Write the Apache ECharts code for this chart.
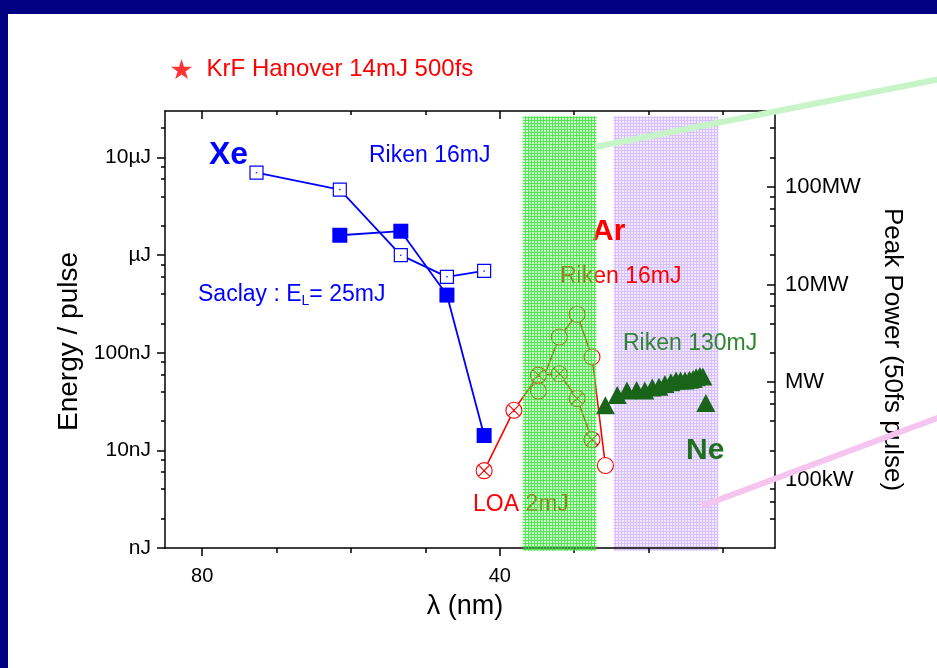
<!DOCTYPE html>
<html><head><meta charset="utf-8">
<script src="https://cdn.jsdelivr.net/npm/echarts@6/dist/echarts.min.js"></script>
<style>html,body{margin:0;padding:0;background:#fff;overflow:hidden}#c{width:937px;height:668px}</style>
</head><body><div id="c"></div><script>
// ---------- data ----------
const xeRikenWl = [72.7, 61.5, 53.3, 47.1, 42.1];
const xeRikenE  = [7000, 4700, 1000, 600, 690];          // nJ
const xeSaclayWl = [61.5, 53.3, 47.1, 42.1];
const xeSaclayE  = [1600, 1760, 390, 14.2];
const arLoaWl = [42.1, 38.1, 34.8, 32.0, 29.6, 27.6];
const arLoaE  = [6.2, 25.8, 59, 61, 34, 12.9];
const arRikenWl = [34.8, 32.0, 29.6, 27.6, 25.8];
const arRikenE  = [40.6, 145, 248, 90.6, 7.0];
const neRikenWl = [25.8, 24.2, 22.9, 21.6, 20.5, 19.5, 18.6, 17.8, 17.0, 16.3, 15.7, 15.1, 14.5, 14.0, 13.6, 13.1, 12.7, 12.3];
const neRikenE  = [29, 37, 41, 41.6, 41, 44, 45, 48, 50, 52, 52, 52, 53, 54, 56, 58, 57, 30.6];
const greenBand = [36.9, 27.0];
const purpleBand = [24.7, 10.6];
const bandTop  = 26500;

const xMajor = [80, 40];
const xMinor = [70, 60, 50, 30, 20, 10];
const eMajor = [1, 10, 100, 1000, 10000];
const eLabels = ['nJ', '10nJ', '100nJ', 'µJ', '10µJ'];
const eMinor = [2,4,6,8,20,40,60,80,200,400,600,800,2000,4000,6000,8000,20000];
const pMajor = [1e5, 1e6, 1e7, 1e8];
const pLabels = ['100kW', 'MW', '10MW', '100MW'];
const pMinor = [4e4,6e4,8e4,2e5,4e5,6e5,8e5,2e6,4e6,6e6,8e6,2e7,4e7,6e7,8e7,2e8,4e8];

const xMin = 3, xMax = 85;
const eMin = 1, eMax = 30000;
const pulseFs = 50;
const pMin = eMin * 1e-9 / (pulseFs * 1e-15), pMax = eMax * 1e-9 / (pulseFs * 1e-15);

// ---------- helpers ----------
const FONT = '"Liberation Sans", Arial, Helvetica, sans-serif';
const zip = (a, b) => a.map((v, i) => [v, b[i]]);
function lookup(vals, labels) {
  return v => { const k = Math.round(Math.log10(v)); for (let i = 0; i < vals.length; i++) if (Math.round(Math.log10(vals[i])) === k) return labels[i]; return ''; };
}
function hatch(bg, ln) {
  const c = document.createElement('canvas'); c.width = 3; c.height = 3;
  const g = c.getContext('2d');
  g.fillStyle = bg; g.fillRect(0, 0, 3, 3);
  g.fillStyle = ln; g.fillRect(0, 0, 3, 1); g.fillRect(0, 1, 1, 2);
  return { image: c, repeat: 'repeat' };
}
const line = { lineStyle: { color: '#000', width: 1.5 } };
const tickStyle = { color: '#000', width: 1.5 };

const xAxes = [
  { type: 'value', position: 'bottom', inverse: true, min: xMin, max: xMax,
    axisLine: { show: true, onZero: false, ...line },
    axisTick: { show: true, length: 8, customValues: xMajor, lineStyle: tickStyle },
    axisLabel: { customValues: xMajor, fontSize: 20, color: '#000', fontFamily: FONT, margin: 18 },
    splitLine: { show: false },
    name: 'λ (nm)', nameLocation: 'middle', nameGap: 45,
    nameTextStyle: { fontSize: 27, color: '#000', fontFamily: FONT, padding: [0, 10, 0, 0] } },
  { type: 'value', position: 'bottom', inverse: true, min: xMin, max: xMax,
    axisLine: { show: false, onZero: false },
    axisTick: { show: true, length: 5, customValues: xMinor, lineStyle: tickStyle },
    axisLabel: { show: false }, splitLine: { show: false } },
  { type: 'value', position: 'top', inverse: true, min: xMin, max: xMax,
    axisLine: { show: true, onZero: false, ...line },
    axisTick: { show: true, inside: true, length: 8, customValues: xMajor, lineStyle: tickStyle },
    axisLabel: { show: false }, splitLine: { show: false } },
  { type: 'value', position: 'top', inverse: true, min: xMin, max: xMax,
    axisLine: { show: false, onZero: false },
    axisTick: { show: true, inside: true, length: 4, customValues: xMinor, lineStyle: tickStyle },
    axisLabel: { show: false }, splitLine: { show: false } }
];

const yAxes = [
  { type: 'log', position: 'left', min: eMin, max: eMax,
    axisLine: { show: true, onZero: false, ...line },
    axisTick: { show: true, length: 8, customValues: eMajor, lineStyle: tickStyle },
    axisLabel: { customValues: eMajor, formatter: lookup(eMajor, eLabels), fontSize: 21, color: '#000', fontFamily: FONT, margin: 14 },
    splitLine: { show: false },
    name: 'Energy / pulse', nameLocation: 'middle', nameGap: 82,
    nameTextStyle: { fontSize: 28, color: '#000', fontFamily: FONT, padding: [0, 24, 0, 0] } },
  { type: 'log', position: 'left', min: eMin, max: eMax,
    axisLine: { show: false },
    axisTick: { show: true, length: 4, customValues: eMinor, lineStyle: tickStyle },
    axisLabel: { show: false }, splitLine: { show: false } },
  { type: 'log', position: 'right', min: pMin, max: pMax,
    axisLine: { show: true, onZero: false, ...line },
    axisTick: { show: true, inside: true, length: 8, customValues: pMajor, lineStyle: tickStyle },
    axisLabel: { customValues: pMajor, formatter: lookup(pMajor, pLabels), fontSize: 22, color: '#000', fontFamily: FONT, margin: 10 },
    splitLine: { show: false },
    name: 'Peak Power (50fs pulse)', nameLocation: 'middle', nameGap: 104, nameRotate: -90,
    nameTextStyle: { fontSize: 26, color: '#000', fontFamily: FONT, padding: [0, 0, 0, 40] } },
  { type: 'log', position: 'right', min: pMin, max: pMax,
    axisLine: { show: false },
    axisTick: { show: true, inside: true, length: 5, customValues: pMinor, lineStyle: tickStyle },
    axisLabel: { show: false }, splitLine: { show: false } }
];

const starPath = 'path://M50,0 L61,35 L98,35 L68,57 L79,91 L50,70 L21,91 L32,57 L2,35 L39,35 Z';
const crossCircle = 'path://M10,0 A10,10 0 1,1 -10,0 A10,10 0 1,1 10,0 Z M-7.07,-7.07 L7.07,7.07 M7.07,-7.07 L-7.07,7.07';

function bandSeries(name, range, fill, z) {
  return { name: name, type: 'custom', z: z, silent: true, data: [range],
    renderItem: function (params, api) {
      const a = api.coord([api.value(0), bandTop]);
      const b = api.coord([api.value(1), eMin]);
      return { type: 'rect', shape: { x: Math.min(a[0], b[0]), y: a[1], width: Math.abs(b[0] - a[0]), height: b[1] - a[1] + 3 },
        style: { fill: fill } };
    } };
}

function txt(text, x, y, size, color, bold, z) {
  return { type: 'text', x: x, y: y, z: z === undefined ? 1 : z,
    style: { text: text, fill: color, font: (bold ? 'bold ' : '') + size + 'px ' + FONT, textVerticalAlign: 'middle' } };
}

const option = {
  backgroundColor: '#fff',
  animation: false,
  grid: { left: 165, right: 162, top: 111, bottom: 120, containLabel: false },
  xAxis: xAxes,
  yAxis: yAxes,
  legend: {
    show: true, left: 166, top: 52, itemWidth: 40, itemHeight: 20, symbolKeepAspect: true,
    data: [{ name: 'KrF Hanover 14mJ 500fs', icon: starPath }],
    textStyle: { color: '#ff0000', fontSize: 24, fontFamily: FONT }
  },
  series: [
    bandSeries('Ne region', purpleBand, hatch('rgba(225,205,252,0.45)', 'rgba(200,165,248,0.6)'), 0),
    { name: 'Xe Riken 16mJ', type: 'line', data: zip(xeRikenWl, xeRikenE), symbol: 'rect', symbolSize: 13,
      itemStyle: { color: '#fff', borderColor: '#0000ff', borderWidth: 1.2 }, lineStyle: { color: '#0000ff', width: 1.8 }, z: 3 },
    { name: 'Xe Riken dot', type: 'scatter', data: zip(xeRikenWl, xeRikenE), symbol: 'rect', symbolSize: 1.5,
      itemStyle: { color: '#0000ff' }, z: 4 },
    { name: 'Xe Saclay 25mJ', type: 'line', data: zip(xeSaclayWl, xeSaclayE), symbol: 'rect', symbolSize: 15,
      itemStyle: { color: '#0000ff' }, lineStyle: { color: '#0000ff', width: 1.8 }, z: 3 },
    { name: 'Ar LOA 2mJ', type: 'line', data: zip(arLoaWl, arLoaE), symbol: crossCircle, symbolSize: 16,
      itemStyle: { color: '#fff', borderColor: '#ff0000', borderWidth: 1.1 }, lineStyle: { color: '#ff0000', width: 1.6 }, z: 3 },
    { name: 'Ar Riken 16mJ', type: 'line', data: zip(arRikenWl, arRikenE), symbol: 'circle', symbolSize: 16,
      itemStyle: { color: '#fff', borderColor: '#ff0000', borderWidth: 1.1 }, lineStyle: { color: '#ff0000', width: 1.6 }, z: 3 },
    { name: 'Ne Riken 130mJ', type: 'scatter', data: zip(neRikenWl, neRikenE), symbol: 'triangle', symbolSize: [19, 18],
      itemStyle: { color: '#186418', opacity: 1 }, z: 3 },
    { name: 'KrF Hanover 14mJ 500fs', type: 'scatter', data: [], symbol: starPath, itemStyle: { color: '#ff0000' } },
    bandSeries('Ar region', greenBand, hatch('rgba(120,240,120,0.35)', 'rgba(40,225,40,0.75)'), 6)
  ],
  graphic: [
    { type: 'rect', shape: { x: 0, y: 0, width: 937, height: 14 }, style: { fill: '#000080' }, z: 20 },
    { type: 'rect', shape: { x: 0, y: 0, width: 8, height: 668 }, style: { fill: '#000080' }, z: 20 },
    txt('Xe', 209, 155, 32, '#0000ff', true),
    txt('Riken 16mJ', 369, 156, 23, '#0000ff', false),
    { type: 'text', x: 198, y: 295, z: 1,
      style: { rich: { a: { fill: '#0000ff', font: '23px ' + FONT }, s: { fill: '#0000ff', font: '14px ' + FONT, padding: [12, 0, 0, 0] } },
        text: '{a|Saclay : E}{s|L}{a|= 25mJ}', textVerticalAlign: 'middle' } },
    txt('Ar', 592, 232, 30, '#ff0000', true),
    txt('Riken 16mJ', 560, 277, 23, '#ff0000', false),
    txt('Riken 130mJ', 623, 344, 23, '#2e862e', false),
    txt('Ne', 686, 451, 30, '#1f6f1f', true),
    txt('LOA 2mJ', 473, 505, 23, '#ff0000', false),
    { type: 'line', z: 10, shape: { x1: 595, y1: 147, x2: 940, y2: 79 }, style: { stroke: '#c8f5c8', lineWidth: 6 } },
    { type: 'line', z: 10, shape: { x1: 702, y1: 506, x2: 940, y2: 417 }, style: { stroke: '#f5c4ef', lineWidth: 6 } }
  ]
};
echarts.init(document.getElementById('c')).setOption(option);
</script></body></html>
